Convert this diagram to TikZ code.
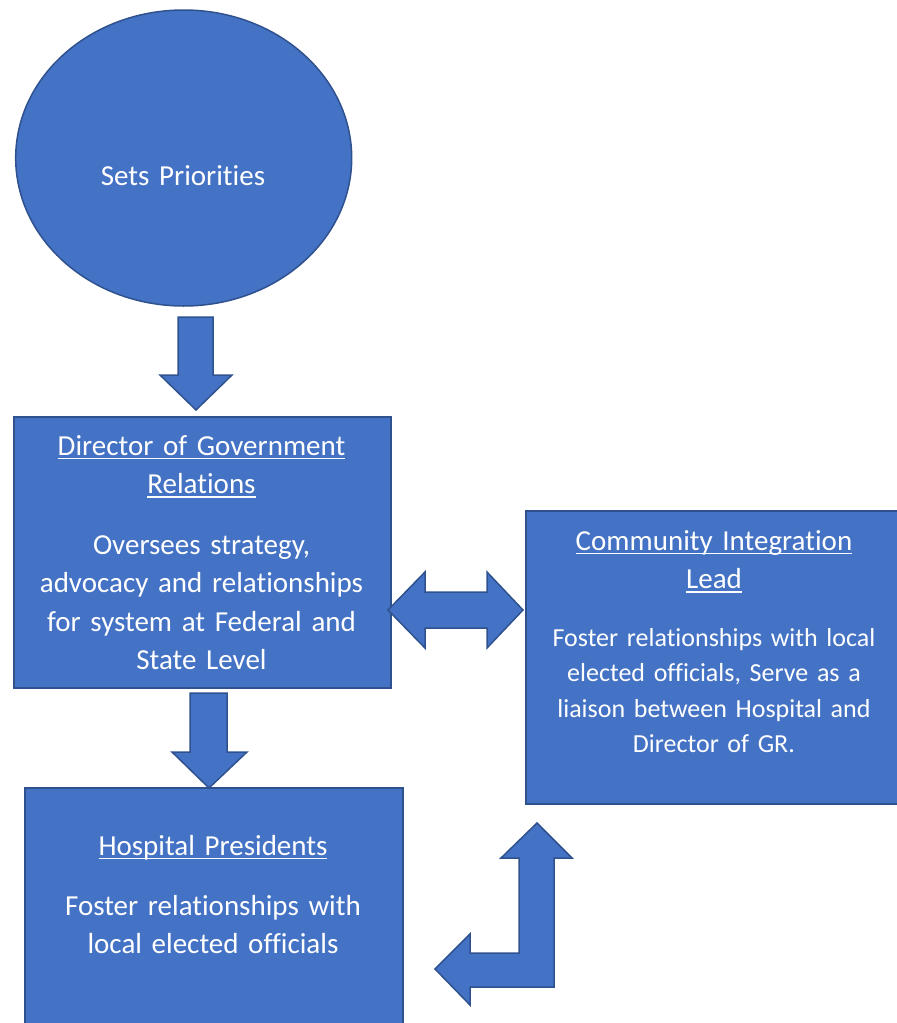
\documentclass[tikz,border=0pt]{standalone}
\usepackage{fontspec}
\setmainfont{Carlito}[Ligatures=NoCommon]
\usetikzlibrary{shapes.geometric}
\definecolor{boxfill}{HTML}{4472C4}
\definecolor{boxline}{HTML}{2F528F}
\newsavebox\ulbox
\newcommand\myul[1]{\leavevmode\sbox\ulbox{#1}\rlap{\rule[-4pt]{\wd\ulbox}{1.5pt}}\usebox\ulbox}
\tikzset{
  shapebox/.style={draw=boxline, fill=boxfill, line width=1.5pt, inner sep=0pt},
  blockarrow/.style={draw=boxline, fill=boxfill, line width=1.5pt, line join=miter},
  lbl/.style={text=white, align=center, anchor=base, inner sep=0pt, text width=370pt,
    font=\fontsize{29}{38.5}\selectfont},
  lblsmall/.style={lbl, font=\fontsize{26}{35.5}\selectfont}
}
\begin{document}
\begin{tikzpicture}[x=1pt,y=-1pt]
\useasboundingbox (0,0) rectangle (897,1023);
\begin{scope}
\clip (0,0) rectangle (897,1023);
% ellipse
\node[shapebox, ellipse, minimum width=336pt, minimum height=296pt] (prio) at (183.7,158) {};
\node[lbl] (priot) at (183,185) {Sets Priorities};
% director box
\node[shapebox, anchor=north west, minimum width=377pt, minimum height=271pt] (dir) at (13,416) {};
\node[lbl] (dirt) at (201.5,455) {\myul{Director of Government}\\\myul{Relations}};
\node[lbl] (dirb) at (201.5,554) {Oversees strategy,\\advocacy and relationships\\for system at Federal and\\State Level};
% community box
\node[shapebox, anchor=north west, minimum width=372pt, minimum height=293pt] (com) at (525,510) {};
\node[lbl] (comt) at (714,550) {\myul{Community Integration}\\\myul{Lead}};
\node[lblsmall] (comb) at (714,646) {Foster relationships with local\\elected officials, Serve as a\\liaison between Hospital and\\Director of GR.};
% hospital box
\node[shapebox, anchor=north west, minimum width=378pt, minimum height=260pt] (hosp) at (24,787) {};
\node[lbl] (hospt) at (213,855) {\myul{Hospital Presidents}};
\node[lbl] (hospb) at (213,915) {Foster relationships with\\local elected officials};
% arrows
\draw[blockarrow] (178,317) -- (213,317) -- (213,375) -- (232,375) -- (196,410) -- (160,375) -- (178,375) -- cycle;
\draw[blockarrow] (190,693) -- (227,693) -- (227,752) -- (247,752) -- (209,788) -- (172,752) -- (190,752) -- cycle;
\draw[blockarrow] (388,610) -- (425,572) -- (425,592) -- (487,592) -- (487,572) -- (523,610) -- (487,648) -- (487,628) -- (425,628) -- (425,648) -- cycle;
\draw[blockarrow] (537,823) -- (572,858) -- (554,858) -- (554,987) -- (470,987) -- (470,1005) -- (435,969) -- (470,934) -- (470,953) -- (519,953) -- (519,858) -- (501,858) -- cycle;
\end{scope}
\end{tikzpicture}
\end{document}
